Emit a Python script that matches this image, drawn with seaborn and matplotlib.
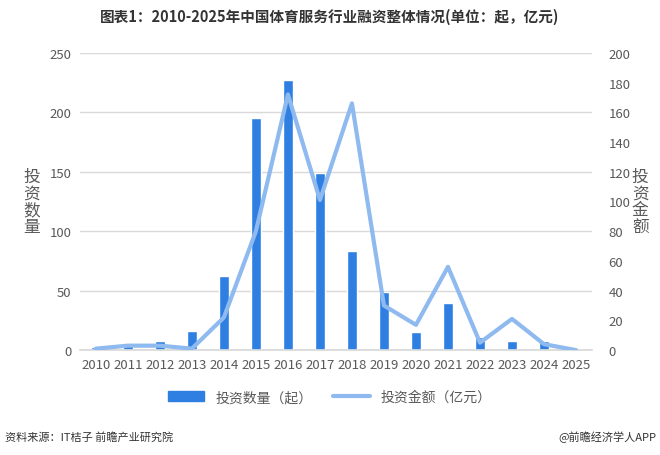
import matplotlib
matplotlib.use("Agg")
import matplotlib.pyplot as plt
import numpy as np
import pandas as pd
import seaborn as sns

years = [str(y) for y in range(2010, 2026)]
deal_count = [3, 6, 8, 16, 62, 195, 227, 149, 83, 49, 15, 40, 11, 8, 8, 0]
deal_amount = [1, 3, 3, 1, 22, 80, 172, 101, 166, 30, 17, 56, 5, 21, 4, 0]

title = "图表1：2010-2025年中国体育服务行业融资整体情况(单位：起，亿元)"
bar_label = "投资数量（起）"
line_label = "投资金额（亿元）"
source = "资料来源：IT桔子 前瞻产业研究院"
credit = "@前瞻经济学人APP"

BAR_C = "#2f7fe3"
LINE_C = "#8fbaf0"
TXT_C = "#595959"

sns.set_theme(style="white")
plt.rcParams["font.family"] = ["Noto Sans CJK SC", "DejaVu Sans"]

df = pd.DataFrame({"year": years, "count": deal_count, "amount": deal_amount})
df["pos"] = np.arange(len(df))

fig = plt.figure(figsize=(6.6, 4.56), dpi=100)
ax = fig.add_axes([0.121, 0.230, 0.776, 0.652])

sns.barplot(df, x="year", y="count", color=BAR_C, width=0.32, saturation=1,
            ax=ax, zorder=2)
ax.set_ylim(0, 250)
ax.set_yticks(range(0, 251, 50))
ax.set_xlim(-0.5, len(years) - 0.5)
ax.grid(axis="y", color="#d9d9d9", lw=1, zorder=0)
ax.set_axisbelow(True)
for s in ["top", "left", "right"]:
    ax.spines[s].set_visible(False)
ax.spines["bottom"].set_color("#d9d9d9")
ax.tick_params(axis="both", colors=TXT_C, labelsize=9.5, length=0, pad=6)
ax.set_xlabel("")
ax.set_ylabel("投\n资\n数\n量", rotation=0, color=TXT_C, fontsize=12,
              va="center", ha="center", linespacing=1.0)
ax.yaxis.set_label_coords(-0.094, 0.5)

ax2 = ax.twinx()
sns.lineplot(df, x="pos", y="amount", color=LINE_C, lw=3, ax=ax2, zorder=3)
ax2.set_ylim(0, 200)
ax2.set_yticks(range(0, 201, 20))
for s in ax2.spines.values():
    s.set_visible(False)
ax2.tick_params(axis="y", colors=TXT_C, labelsize=9.5, length=0, pad=12)
ax2.set_ylabel("投\n资\n金\n额", rotation=0, color=TXT_C, fontsize=12,
               va="center", ha="center", linespacing=1.0)
ax2.yaxis.set_label_coords(1.094, 0.5)
ax2.grid(False)

fig.text(0.5, 0.962, title, ha="center", va="center", fontsize=10.5,
         fontweight="bold", color="#333333")

handles = [plt.Rectangle((0, 0), 1, 1, color=BAR_C),
           plt.Line2D([0], [0], color=LINE_C, lw=3)]
fig.legend(handles, [bar_label, line_label], loc="center", ncol=2,
           bbox_to_anchor=(0.5, 0.127), frameon=False, fontsize=10,
           labelcolor=TXT_C, handlelength=2.6, columnspacing=1.5)

fig.text(0.008, 0.04, source, ha="left", va="center", fontsize=8, color="#333333")
fig.text(0.995, 0.04, credit, ha="right", va="center", fontsize=8, color="#333333")

fig.savefig("out.png", dpi=100)
